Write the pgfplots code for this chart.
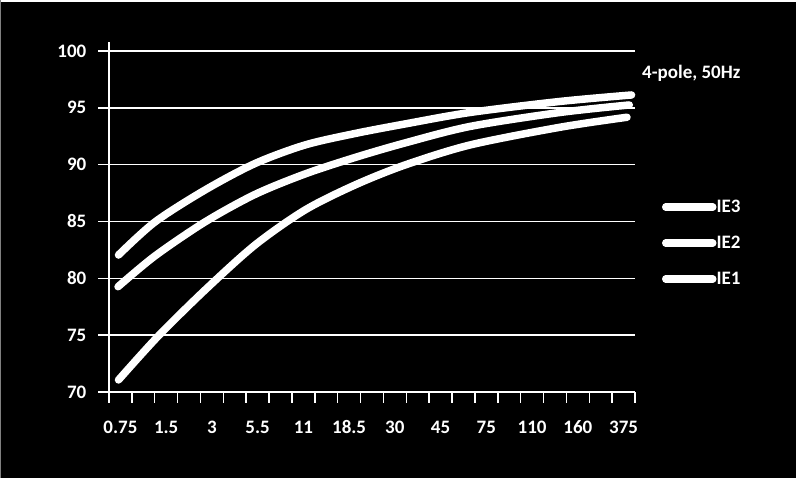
\documentclass[border=0pt]{standalone}
\usepackage{pgfplots}
\pgfplotsset{compat=1.18}
\usepackage{fontspec}
\setmainfont{Carlito}

\pgfplotsset{curve/.style={white, line width=7.5bp, line cap=round, smooth, no markers}}

\begin{document}
\begin{tikzpicture}
\useasboundingbox (0,0) rectangle (796bp,478bp);
\fill[black] (0,0) rectangle (796bp,478bp);
\draw[white, line width=2bp] (0,477bp) -- (796bp,477bp);
\draw[gray, line width=1bp] (0.5bp,0) -- (0.5bp,478bp);

\begin{axis}[
    at={(109bp,86bp)}, anchor=south west,
    scale only axis,
    width=526bp, height=350bp,
    xmin=0, xmax=23,
    ymin=70, ymax=100.79,
    axis x line=bottom, axis y line=left,
    axis line style={-, white, line width=1.5bp},
    every tick/.style={white, line width=1.5bp},
    tick align=outside,
    major tick length=10.5bp,
    xtick={0,...,23},
    xticklabels={},
    extra x ticks={0.5,2.5,4.5,6.5,8.5,10.5,12.5,14.5,16.5,18.5,20.5,22.5},
    extra x tick labels={0.75,1.5,3,5.5,11,18.5,30,45,75,110,160,375},
    extra x tick style={major tick length=0pt, grid=none,
        tick label style={anchor=base, inner sep=0pt, yshift=-41bp}},
    ytick={70,75,...,100},
    ymajorgrids=true,
    grid style={white, line width=1.5bp},
    yticklabel style={anchor=east, inner sep=0pt, xshift=-12bp},
    tick label style={text=white, font=\fontsize{19bp}{22bp}\selectfont\bfseries},
    /pgf/number format/assume math mode=true,
    clip=false,
    legend style={draw=none, fill=none, at={(1,0.4257)}, anchor=west,
        xshift=27bp, inner sep=0pt, outer sep=0pt,
        nodes={inner sep=0pt, text=white, font=\fontsize{19bp}{22bp}\selectfont\bfseries},
        row sep=22bp,
        /tikz/every even column/.append style={column sep=8bp}},
    legend cell align=left,
    legend image code/.code={\draw[#1] (0bp,0bp) -- (47bp,0bp);},
]

% IE3
\addplot[curve] coordinates {
    (0.415,82.05) (2.011,84.96) (4.198,87.77) (6.384,90.10) (8.570,91.73)
    (10.756,92.74) (12.943,93.58) (15.785,94.59) (19.720,95.56) (22.85,96.13)
};
\addlegendentry{IE3}

% IE2
\addplot[curve] coordinates {
    (0.394,79.26) (2.011,81.97) (4.198,84.96) (6.384,87.38) (8.570,89.18)
    (10.756,90.63) (12.943,91.91) (15.785,93.36) (19.720,94.59) (22.75,95.25)
};
\addlegendentry{IE2}

% IE1
\addplot[curve] coordinates {
    (0.415,71.06) (2.143,74.90) (4.198,78.97) (6.384,82.93) (8.570,86.01)
    (10.756,88.21) (12.943,89.97) (15.785,91.73) (19.720,93.29) (22.65,94.17)
};
\addlegendentry{IE1}

\node[anchor=west, inner sep=0pt, text=white, font=\fontsize{19bp}{22bp}\selectfont\bfseries]
    at (rel axis cs:1,0.911) [xshift=7bp] {4-pole, 50Hz};

\end{axis}
\end{tikzpicture}
\end{document}
